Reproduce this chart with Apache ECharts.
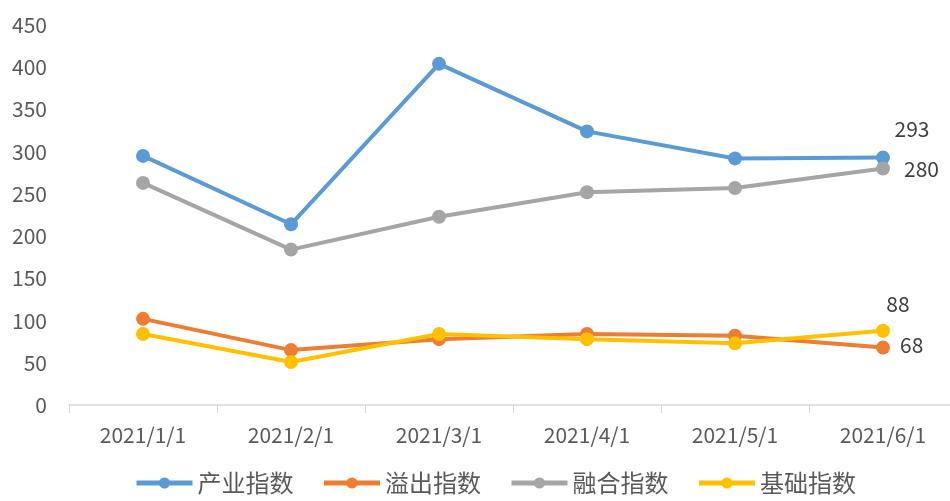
<!DOCTYPE html>
<html>
<head>
<meta charset="utf-8">
<script src="https://cdn.jsdelivr.net/npm/echarts@6/dist/echarts.min.js"></script>
<style>
  html, body { margin: 0; padding: 0; background: #fff; }
  #main { width: 950px; height: 501px; }
</style>
</head>
<body>
<div id="main"></div>
<script>
    var months = ['2021/1/1', '2021/2/1', '2021/3/1', '2021/4/1', '2021/5/1', '2021/6/1'];
    var chanye = [295, 214, 404, 324, 292, 293];
    var yichu = [102, 65, 78, 84, 82, 68];
    var ronghe = [263, 184, 223, 252, 257, 280];
    var jichu = [84, 51, 84, 78, 73, 88];

    var font = '"Noto Sans CJK SC", "Noto Sans", sans-serif';

    function makeSeries(name, values, color, labelPos, labelOffset) {
        return {
            name: name,
            type: 'line',
            data: values.map(function(v, i) {
                if (i === values.length - 1) {
                    return {
                        value: v,
                        label: {
                            show: true,
                            position: labelPos,
                            offset: labelOffset,
                            color: '#404040',
                            fontSize: 21,
                            fontFamily: font,
                            distance: 8
                        }
                    };
                }
                return v;
            }),
            symbol: 'circle',
            symbolSize: 14,
            lineStyle: { width: 4, color: color },
            itemStyle: { color: color },
            emphasis: { disabled: true },
            z: 2
        };
    }

    var chart = echarts.init(document.getElementById('main'));
    var option = {
        backgroundColor: 'white',
        animation: false,
        color: ['#5B9BD5', '#ED7D31', '#A5A5A5', '#FFC000'],
        grid: {
            left: 69,
            width: 888,
            top: 25,
            bottom: 96,
            outerBoundsMode: 'none'
        },
        legend: {
            bottom: 1,
            left: 129,
            itemWidth: 56,
            itemHeight: 14,
            itemGap: 28,
            lineStyle: { width: 5 },
            textStyle: { color: '#595959', fontSize: 24, fontFamily: font },
            data: ['产业指数', '溢出指数', '融合指数', '基础指数']
        },
        xAxis: {
            type: 'category',
            data: months,
            boundaryGap: true,
            axisLine: { lineStyle: { color: '#D9D9D9', width: 1.5 } },
            axisTick: { show: true, length: 8, lineStyle: { color: '#D9D9D9' } },
            axisLabel: { color: '#595959', fontSize: 21, fontFamily: font, margin: 20 }
        },
        yAxis: {
            type: 'value',
            min: 0,
            max: 450,
            interval: 50,
            axisLine: { show: false },
            axisTick: { show: false },
            splitLine: { show: false },
            axisLabel: { color: '#595959', fontSize: 21, fontFamily: font, margin: 22 }
        },
        series: [
            makeSeries('产业指数', chanye, '#5B9BD5', 'top', [29, -3]),
            makeSeries('溢出指数', yichu, '#ED7D31', 'right', [2, -3]),
            makeSeries('融合指数', ronghe, '#A5A5A5', 'right', [6, 0]),
            makeSeries('基础指数', jichu, '#FFC000', 'top', [15, -1])
        ]
    };
    chart.setOption(option);
</script>
</body>
</html>
